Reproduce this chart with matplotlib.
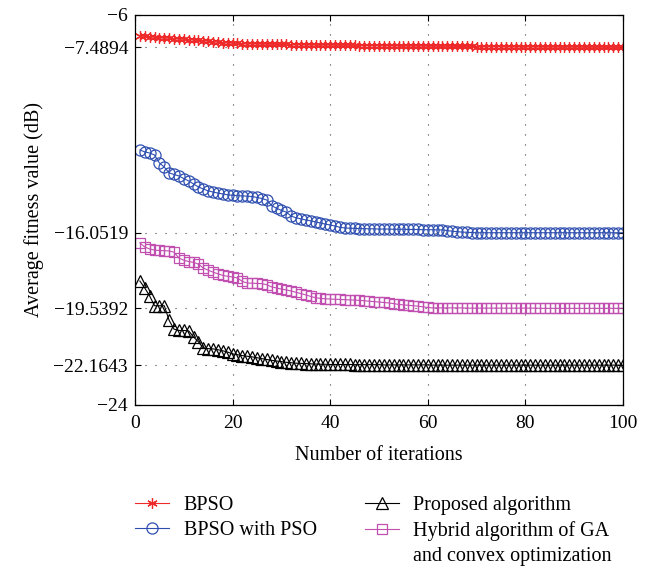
import matplotlib
matplotlib.use("Agg")
import matplotlib.pyplot as plt
from matplotlib.lines import Line2D

plt.rcParams.update({
    "font.family": ["Liberation Serif", "DejaVu Serif"],
    "font.size": 14.5,
})

iterations = list(range(1, 101))

bpso = [
    -6.97, -6.99, -7.01, -7.02, -7.04, -7.06, -7.07, -7.09, -7.11, -7.12,
    -7.14, -7.15, -7.17, -7.19, -7.21, -7.23, -7.25, -7.27, -7.29, -7.30,
    -7.31, -7.32, -7.33, -7.33, -7.34, -7.34, -7.35, -7.35, -7.36, -7.36,
    -7.36, -7.37, -7.37, -7.37, -7.38, -7.38, -7.38, -7.38, -7.39, -7.39,
    -7.39, -7.40, -7.40, -7.40, -7.40, -7.41, -7.41, -7.41, -7.41, -7.41,
    -7.42, -7.42, -7.42, -7.42, -7.43, -7.43, -7.43, -7.43, -7.43, -7.44,
    -7.44, -7.44, -7.44, -7.44, -7.45, -7.45, -7.45, -7.45, -7.45, -7.46,
    -7.46, -7.46, -7.46, -7.46, -7.46, -7.47, -7.47, -7.47, -7.47, -7.47,
    -7.47, -7.47, -7.48, -7.48, -7.48, -7.48, -7.48, -7.48, -7.48, -7.48,
    -7.48, -7.49, -7.49, -7.49, -7.49, -7.49, -7.49, -7.49, -7.49, -7.4894,
]

bpso_pso = [
    -12.23, -12.32, -12.37, -12.46, -12.83, -13.02, -13.29, -13.36, -13.43, -13.55,
    -13.66, -13.80, -13.94, -14.03, -14.12, -14.17, -14.22, -14.26, -14.30, -14.32,
    -14.34, -14.35, -14.36, -14.38, -14.42, -14.47, -14.54, -14.80, -14.92, -15.02,
    -15.10, -15.28, -15.36, -15.41, -15.46, -15.50, -15.55, -15.60, -15.65, -15.69,
    -15.74, -15.80, -15.83, -15.84, -15.85, -15.86, -15.86, -15.87, -15.87, -15.88,
    -15.88, -15.88, -15.89, -15.89, -15.89, -15.90, -15.90, -15.90, -15.91, -15.91,
    -15.91, -15.92, -15.92, -15.95, -15.98, -16.00, -16.02, -16.03, -16.04, -16.05,
    -16.05, -16.05, -16.05, -16.05, -16.05, -16.05, -16.05, -16.05, -16.05, -16.05,
    -16.05, -16.05, -16.05, -16.05, -16.05, -16.05, -16.05, -16.05, -16.05, -16.05,
    -16.05, -16.05, -16.05, -16.05, -16.05, -16.05, -16.05, -16.05, -16.05, -16.0519,
]

proposed = [
    -18.28, -18.60, -18.97, -19.42, -19.42, -19.42, -20.10, -20.50, -20.56, -20.56,
    -20.58, -20.86, -21.09, -21.38, -21.40, -21.41, -21.45, -21.50, -21.56, -21.64,
    -21.68, -21.72, -21.75, -21.78, -21.82, -21.86, -21.90, -21.94, -21.97, -22.00,
    -22.03, -22.05, -22.07, -22.08, -22.09, -22.10, -22.11, -22.12, -22.12, -22.13,
    -22.13, -22.13, -22.13, -22.13, -22.14, -22.14, -22.14, -22.14, -22.14, -22.14,
    -22.15, -22.15, -22.15, -22.15, -22.15, -22.15, -22.15, -22.15, -22.15, -22.15,
    -22.16, -22.16, -22.16, -22.16, -22.16, -22.16, -22.16, -22.16, -22.16, -22.16,
    -22.16, -22.16, -22.16, -22.16, -22.16, -22.16, -22.16, -22.16, -22.16, -22.16,
    -22.16, -22.16, -22.16, -22.16, -22.16, -22.16, -22.16, -22.16, -22.16, -22.16,
    -22.16, -22.16, -22.16, -22.16, -22.16, -22.16, -22.16, -22.16, -22.16, -22.1643,
]

hybrid = [
    -16.52, -16.71, -16.80, -16.85, -16.87, -16.88, -16.89, -16.95, -17.22, -17.32,
    -17.38, -17.42, -17.50, -17.68, -17.78, -17.87, -17.95, -18.02, -18.06, -18.09,
    -18.14, -18.30, -18.37, -18.38, -18.39, -18.40, -18.45, -18.55, -18.60, -18.65,
    -18.69, -18.74, -18.80, -18.86, -18.92, -18.99, -19.05, -19.08, -19.10, -19.11,
    -19.12, -19.13, -19.14, -19.15, -19.16, -19.17, -19.19, -19.21, -19.23, -19.25,
    -19.27, -19.29, -19.32, -19.36, -19.38, -19.40, -19.42, -19.44, -19.47, -19.50,
    -19.52, -19.52, -19.52, -19.52, -19.52, -19.52, -19.52, -19.53, -19.53, -19.53,
    -19.53, -19.53, -19.53, -19.53, -19.53, -19.53, -19.53, -19.53, -19.53, -19.53,
    -19.53, -19.53, -19.54, -19.54, -19.54, -19.54, -19.54, -19.54, -19.54, -19.54,
    -19.54, -19.54, -19.54, -19.54, -19.54, -19.54, -19.54, -19.54, -19.54, -19.5392,
]

y_ticks = [-24, -22.1643, -19.5392, -16.0519, -7.4894, -6]
y_ticklabels = ["\u221224", "\u221222.1643", "\u221219.5392", "\u221216.0519", "\u22127.4894", "\u22126"]
x_ticks = [0, 20, 40, 60, 80, 100]

RED = "#ee2a2a"
BLUE = "#2f4fb0"
MAGENTA = "#c04fb0"
BLACK = "#000000"

fig = plt.figure(figsize=(6.5, 5.66), dpi=100)
ax = fig.add_axes([0.2077, 0.2845, 0.7508, 0.689])

h1, = ax.plot(iterations, bpso, color=RED, lw=0.8, marker=(6, 2, 0), ms=7.5,
              mew=0.9, label="BPSO")
h2, = ax.plot(iterations, bpso_pso, color=BLUE, lw=0.8, marker="o", ms=8,
              mew=0.9, mfc="none", label="BPSO with PSO")
h3, = ax.plot(iterations, proposed, color=BLACK, lw=0.8, marker="^", ms=8.5,
              mew=0.9, mfc="none", label="Proposed algorithm")
h4, = ax.plot(iterations, hybrid, color=MAGENTA, lw=0.8, marker="s", ms=6.5,
              mew=0.9, mfc="none", label="Hybrid algorithm of GA")

ax.set_xlim(0, 100)
ax.set_ylim(-24, -6)
ax.set_xticks(x_ticks)
ax.set_yticks(y_ticks)
ax.set_yticklabels(y_ticklabels)
ax.tick_params(direction="in", top=True, right=True, length=4, width=0.8,
               labelsize=14)
ax.tick_params(axis="x", pad=7)
ax.tick_params(axis="y", pad=5)
ax.grid(True, color="#444444", lw=0.8, linestyle=(0, (1, 8)))
for s in ax.spines.values():
    s.set_linewidth(0.9)

ax.set_xlabel("Number of iterations", fontsize=14.5, labelpad=10)
ax.set_ylabel("Average fitness value (dB)", fontsize=14.5, labelpad=7)

# blank entries so the wrapped label lines up under the text column
blank = Line2D([], [], linestyle="none", marker="none")
handles = [h1, h2, blank, h3, h4, blank]
labels = ["BPSO", "BPSO with PSO", "", "Proposed algorithm",
          "Hybrid algorithm of GA", "and convex optimization"]
fig.legend(handles, labels, loc="upper left", bbox_to_anchor=(0.208, 0.124),
           ncol=2, frameon=False, fontsize=14.5, handlelength=1.7,
           handletextpad=0.7, columnspacing=2.4, labelspacing=0.3,
           borderaxespad=0, borderpad=0)

fig.savefig("out.png", dpi=100)
